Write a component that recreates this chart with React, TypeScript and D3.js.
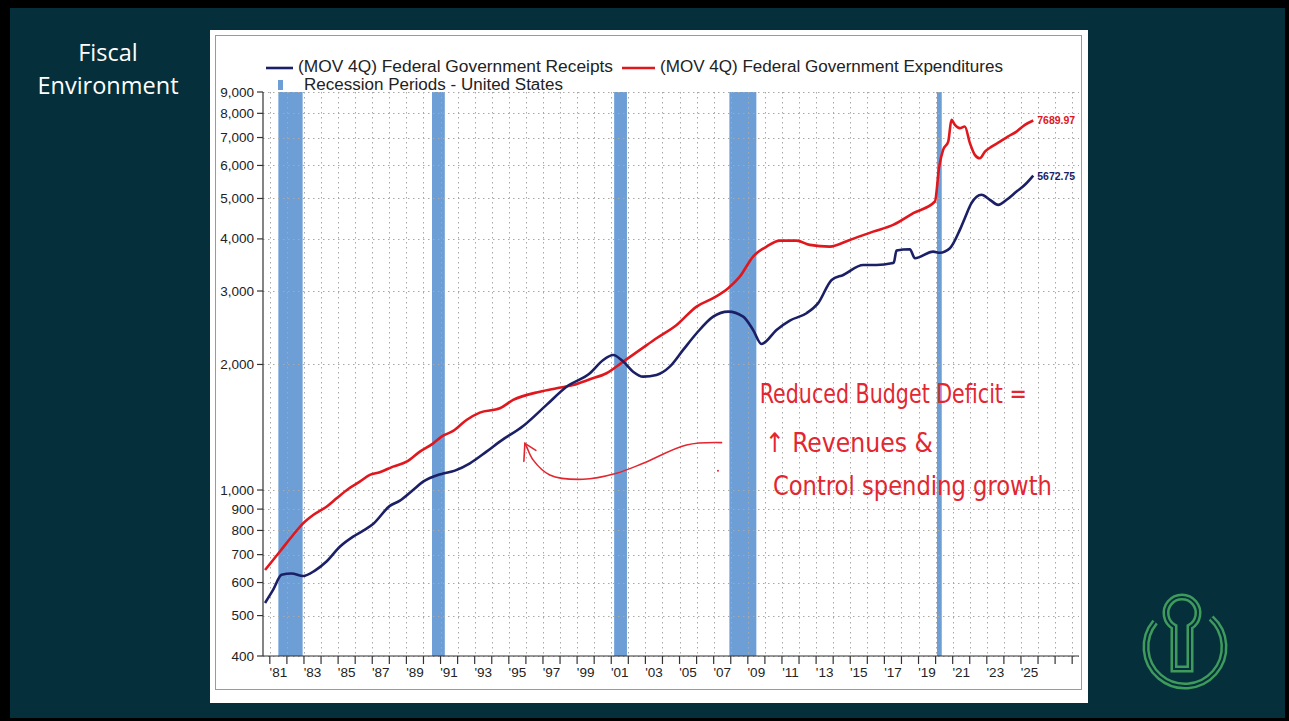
import React from 'react';
import * as d3 from 'd3';

// ---- Data (billions of $, 4-quarter moving average) ----
const receiptsYears = [1980.72, 1981.19, 1981.69, 1982.27, 1982.95, 1983.64, 1984.32, 1985.1, 1985.88, 1986.47, 1987.05, 1988.03, 1988.62, 1989.39, 1989.98, 1991.06, 1991.84, 1992.72, 1993.69, 1994.47, 1995.84, 1997.21, 1998.38, 1999.75, 2000.53, 2001.11, 2001.7, 2002.28, 2002.87, 2003.65, 2004.43, 2005.21, 2006.0, 2006.97, 2007.85, 2008.73, 2009.31, 2009.8, 2010.68, 2011.46, 2012.44, 2013.12, 2013.91, 2014.59, 2015.76, 2016.54, 2017.42, 2017.55, 2017.71, 2018.49, 2018.79, 2019.86, 2020.25, 2020.84, 2021.42, 2021.71, 2022.1, 2022.69, 2023.18, 2023.67, 2024.16, 2024.74, 2025.23, 2025.72];
const receiptsValues = [536, 576, 626, 631, 622, 641, 674, 731, 773, 799, 829, 916, 943, 1000, 1047, 1093, 1113, 1159, 1236, 1306, 1424, 1600, 1769, 1905, 2050, 2108, 2032, 1922, 1870, 1888, 1976, 2167, 2376, 2605, 2678, 2605, 2420, 2240, 2420, 2548, 2654, 2806, 3189, 3278, 3464, 3464, 3497, 3510, 3750, 3779, 3596, 3729, 3707, 3800, 4204, 4485, 4873, 5104, 4964, 4826, 4964, 5195, 5392, 5672.75];

const expendYears = [1980.72, 1981.59, 1982.36, 1982.95, 1983.54, 1984.32, 1984.91, 1985.59, 1986.27, 1986.86, 1987.44, 1988.22, 1989.01, 1989.79, 1990.57, 1991.06, 1991.74, 1992.52, 1993.3, 1994.47, 1995.25, 1996.82, 1997.8, 1998.77, 1999.75, 2000.72, 2001.7, 2002.68, 2003.65, 2004.83, 2006.0, 2006.97, 2007.85, 2008.53, 2009.31, 2010.1, 2010.88, 2011.85, 2012.63, 2013.8, 2014.98, 2016.34, 2017.51, 2018.69, 2019.96, 2020.21, 2020.44, 2020.74, 2020.93, 2021.13, 2021.42, 2021.71, 2022.01, 2022.3, 2022.59, 2022.89, 2023.28, 2023.77, 2024.23, 2024.74, 2025.23, 2025.72];
const expendValues = [643, 712, 780, 832, 871, 912, 955, 1006, 1047, 1087, 1103, 1138, 1169, 1236, 1294, 1343, 1386, 1472, 1533, 1570, 1644, 1721, 1754, 1786, 1843, 1905, 2032, 2167, 2311, 2488, 2753, 2884, 3047, 3248, 3628, 3834, 3962, 3962, 3870, 3834, 3978, 4164, 4321, 4611, 4917, 5960, 6540, 6845, 7716, 7506, 7373, 7440, 6785, 6361, 6244, 6477, 6656, 6845, 7036, 7233, 7506, 7689.97];

const recessionStarts = [1981.5, 1990.5, 2001.17, 2007.92, 2020.08];
const recessionEnds = [1982.92, 1991.25, 2001.92, 2009.5, 2020.36];

const yTicks = [400, 500, 600, 700, 800, 900, 1000, 2000, 3000, 4000, 5000, 6000, 7000, 8000, 9000];
const xTickYears = d3.range(1981, 2029);
const xLabelYears = d3.range(1981, 2026, 2);

const legendReceipts = '(MOV 4Q) Federal Government Receipts';
const legendExpend = '(MOV 4Q) Federal Government Expenditures';
const legendRecession = 'Recession Periods - United States';

// hand-drawn annotation (in data space: year, value)
const arrowYears = [2007.46, 2005.41, 2002.87, 2001.31, 1999.35, 1997.4, 1996.42, 1996.04, 1995.94];
const arrowValues = [1299, 1282, 1159, 1097, 1061, 1087, 1181, 1270, 1294];
const noteLines = ['Reduced Budget Deficit =', '\u2191 Revenues  &', 'Control spending growth'];

const W = 1289;
const H = 721;
const NAVY = '#1b1f66';
const RED = '#e0171d';
const INK = '#e32630';

export default function App() {
  const x = d3.scaleLinear().domain([1980.6, 2028.4]).range([263, 1079]);
  const y = d3.scaleLog().domain([400, 9000]).range([656, 92]);

  const line = d3
    .line<[number, number]>()
    .x((d) => x(d[0]))
    .y((d) => y(d[1]))
    .curve(d3.curveMonotoneX);

  const receipts: [number, number][] = receiptsYears.map((yr, i) => [yr, receiptsValues[i]]);
  const expend: [number, number][] = expendYears.map((yr, i) => [yr, expendValues[i]]);
  const arrowPts: [number, number][] = arrowYears.map((yr, i) => [yr, arrowValues[i]]);
  const arrowLine = d3
    .line<[number, number]>()
    .x((d) => x(d[0]))
    .y((d) => y(d[1]))
    .curve(d3.curveCatmullRom);

  const lastR = receipts[receipts.length - 1];
  const lastE = expend[expend.length - 1];
  const tip = arrowPts[arrowPts.length - 1];
  const tipX = x(tip[0]);
  const tipY = y(tip[1]);

  const fmt = d3.format(',');
  const font = "'Liberation Sans', Arial, sans-serif";

  // logo geometry
  const lcx = 1185;
  const lcy = 647;
  const arc = d3.arc()({
    innerRadius: 39,
    outerRadius: 39,
    startAngle: (42 * Math.PI) / 180,
    endAngle: (310 * Math.PI) / 180,
  } as any) as string;
  const keyhole = d3.path();
  {
    const hx = 1182;
    const hy = 613;
    const r = 16;
    const hw = 8;
    const a = Math.asin(hw / r);
    keyhole.moveTo(hx - hw, hy + r * Math.cos(a));
    keyhole.arc(hx, hy, r, Math.PI / 2 + a, Math.PI / 2 - a + 2 * Math.PI, false);
    keyhole.lineTo(hx + hw, 669);
    keyhole.lineTo(hx - hw, 669);
    keyhole.closePath();
  }

  return (
    <svg
      width={W}
      height={H}
      viewBox={`0 0 ${W} ${H}`}
      style={{ position: 'absolute', left: 0, top: 0, display: 'block' }}
    >
      <rect x={0} y={0} width={W} height={H} fill="#000" />
      <rect x={10} y={8} width={1275} height={710} fill="#05303b" />

      <g fill="#fff" fontFamily="'Open Sans', 'Noto Sans', sans-serif" fontSize={23.5} textAnchor="middle">
        <text x={108} y={61}>Fiscal</text>
        <text x={108} y={94}>Environment</text>
      </g>

      {/* logo */}
      <g transform={`translate(${lcx},${lcy})`} fill="none">
        <path d={arc} stroke="#3e9b5c" strokeWidth={7} strokeLinecap="butt" />
        <path d={arc} stroke="#05303b" strokeWidth={2} />
      </g>
      <path d={keyhole.toString()} fill="none" stroke="#3e9b5c" strokeWidth={7} strokeLinejoin="miter" />
      <path d={keyhole.toString()} fill="none" stroke="#05303b" strokeWidth={2} />

      {/* white panel */}
      <rect x={210} y={30} width={878} height={673} fill="#ffffff" />
      <rect x={215.5} y={35.5} width={866} height={654} fill="none" stroke="#9a9a9a" strokeWidth={1} />

      {/* recession bars */}
      {recessionStarts.map((s, i) => (
        <rect
          key={'rec' + i}
          x={x(s)}
          y={y(9000)}
          width={Math.max(4, x(recessionEnds[i]) - x(s))}
          height={y(400) - y(9000)}
          fill="#6d9fd6"
        />
      ))}

      {/* gridlines */}
      <g stroke="#a8a8a8" strokeWidth={1} strokeDasharray="1.5,3.5">
        {yTicks.map((t) => (
          <line key={'gy' + t} x1={263} x2={1079} y1={Math.round(y(t)) + 0.5} y2={Math.round(y(t)) + 0.5} />
        ))}
        {xTickYears.map((yr) => (
          <line key={'gx' + yr} x1={Math.round(x(yr)) + 0.5} x2={Math.round(x(yr)) + 0.5} y1={92} y2={656} />
        ))}
      </g>

      {/* axes */}
      <g stroke="#333" strokeWidth={1.2}>
        <line x1={263} x2={263} y1={92} y2={656} />
        <line x1={263} x2={1079} y1={656} y2={656} />
        {yTicks.map((t) => (
          <line key={'ty' + t} x1={257} x2={263} y1={y(t)} y2={y(t)} />
        ))}
        {xTickYears.map((yr) => (
          <line key={'tx' + yr} x1={x(yr)} x2={x(yr)} y1={656} y2={664} />
        ))}
      </g>
      <g fontFamily={font} fontSize={13.5} fill="#222" textAnchor="end">
        {yTicks.map((t) => (
          <text key={'ly' + t} x={254} y={y(t) + 4.5}>
            {fmt(t)}
          </text>
        ))}
      </g>
      <g fontFamily={font} fontSize={13.5} fill="#222" textAnchor="middle">
        {xLabelYears.map((yr) => (
          <text key={'lx' + yr} x={x(yr + 0.5)} y={677}>
            {"'" + String(yr).slice(2)}
          </text>
        ))}
      </g>

      {/* series */}
      <path d={line(expend) as string} fill="none" stroke={RED} strokeWidth={2.6} strokeLinejoin="round" />
      <path d={line(receipts) as string} fill="none" stroke={NAVY} strokeWidth={2.6} strokeLinejoin="round" />

      <text x={x(lastE[0]) + 4} y={y(lastE[1]) + 4} fontFamily={font} fontSize={10.5} fontWeight="bold" fill={RED}>
        {lastE[1].toFixed(2)}
      </text>
      <text x={x(lastR[0]) + 4} y={y(lastR[1]) + 4} fontFamily={font} fontSize={10.5} fontWeight="bold" fill={NAVY}>
        {lastR[1].toFixed(2)}
      </text>

      {/* legend */}
      <g fontFamily={font} fontSize={16} fill="#222">
        <line x1={266} x2={293} y1={68} y2={68} stroke={NAVY} strokeWidth={2.6} />
        <text x={298} y={72} textLength={315} lengthAdjust="spacingAndGlyphs">{legendReceipts}</text>
        <line x1={622} x2={655} y1={68} y2={68} stroke={RED} strokeWidth={2.6} />
        <text x={660} y={72} textLength={343} lengthAdjust="spacingAndGlyphs">{legendExpend}</text>
        <rect x={278} y={80} width={5} height={10} fill="#6d9fd6" />
        <text x={304} y={90} textLength={259} lengthAdjust="spacingAndGlyphs">{legendRecession}</text>
      </g>

      {/* hand annotation */}
      <g fill="none" stroke={INK} strokeWidth={1.6} strokeLinecap="round">
        <path d={arrowLine(arrowPts) as string} />
        <line x1={tipX} y1={tipY} x2={tipX - 1} y2={tipY + 18} />
        <line x1={tipX} y1={tipY} x2={tipX + 11} y2={tipY + 7} />
      </g>
      <circle cx={718} cy={470.7} r={1} fill={INK} />
      <g fill={INK} fontFamily="'Liberation Sans Narrow', 'DejaVu Sans Condensed', sans-serif" fontSize={27}>
        <text x={x(2009.7)} y={y(1618)} textLength={267} lengthAdjust="spacingAndGlyphs">
          {noteLines[0]}
        </text>
        <text x={x(2010.0)} y={y(1234)} textLength={168} lengthAdjust="spacingAndGlyphs">
          {noteLines[1]}
        </text>
        <text x={x(2010.47)} y={y(973)} textLength={279} lengthAdjust="spacingAndGlyphs">
          {noteLines[2]}
        </text>
      </g>
    </svg>
  );
}
